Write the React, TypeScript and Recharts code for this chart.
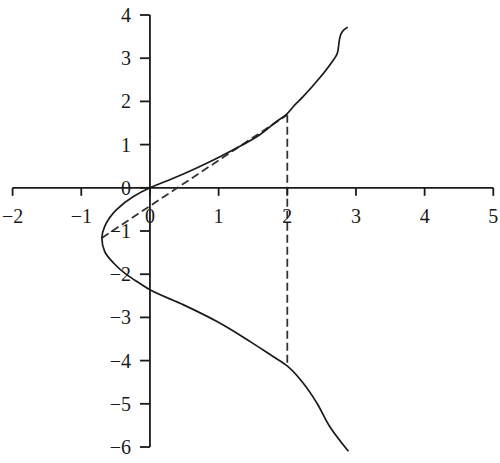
import { ComposedChart, Line, ReferenceLine, Scatter, XAxis, YAxis } from "recharts"

// tick values on the two crossing axes
const xTicks = [-2, -1, 0, 1, 2, 3, 4, 5]
const yTicks = [-6, -5, -4, -3, -2, -1, 0, 1, 2, 3, 4]

// the curve, read top to bottom
const curveX = [2.88, 2.82, 2.78, 2.76, 2.73, 2.64, 2.47, 2.23, 2.11, 1.98, 1.84, 1.6, 1.31, 1.02, 0.68, 0.34, 0, -0.24, -0.49, -0.66, -0.7, -0.66, -0.53, -0.34, -0.15, 0, 0.49, 0.97, 1.46, 1.75, 1.98, 2.23, 2.43, 2.62, 2.89]
const curveY = [3.72, 3.65, 3.55, 3.43, 3.12, 2.89, 2.54, 2.11, 1.92, 1.69, 1.53, 1.23, 0.96, 0.72, 0.46, 0.22, 0, -0.2, -0.51, -0.9, -1.16, -1.47, -1.74, -2.01, -2.21, -2.36, -2.71, -3.09, -3.56, -3.86, -4.1, -4.52, -4.98, -5.53, -6.1]

// dashed chord and the vertical drop at x = 2
const chordX = [-0.7, 2]
const chordY = [-1.16, 1.69]
const dropX = [2, 2]
const dropY = [1.69, -4.1]

const zip = (xs: number[], ys: number[]) => xs.map((x, i) => ({ x, y: ys[i] }))

const curve = zip(curveX, curveY)
const chord = zip(chordX, chordY)
const drop = zip(dropX, dropY)
const xTickPoints = xTicks.map((x) => ({ x, y: 0 }))
const yTickPoints = yTicks.map((y) => ({ x: 0, y }))

const ink = "#1a1a1a"
const font = "'Liberation Serif', 'Times New Roman', serif"
const fmt = (v: number) => (v < 0 ? `\u2212${Math.abs(v)}` : `${v}`)

const XTick = (props: any) => {
  const { cx, cy, payload } = props
  return (
    <g>
      <line x1={cx} y1={cy} x2={cx} y2={cy + 8} stroke={ink} strokeWidth={1.8} />
      <text x={cx} y={cy + 35} textAnchor="middle" fontSize={20} fontFamily={font} fill={ink}>
        {fmt(payload.x)}
      </text>
    </g>
  )
}

const YTick = (props: any) => {
  const { cx, cy, payload } = props
  return (
    <g>
      <line x1={cx - 10} y1={cy} x2={cx} y2={cy} stroke={ink} strokeWidth={1.8} />
      <text x={cx - 19} y={cy + 7} textAnchor="end" fontSize={20} fontFamily={font} fill={ink}>
        {fmt(payload.y)}
      </text>
    </g>
  )
}

export default function App() {
  return (
    <div style={{ position: "absolute", left: 0, top: 0, background: "#fff" }}>
      <ComposedChart width={500} height={463} margin={{ top: 15, right: 6.7, bottom: 9.5, left: 12.6 }}>
        <XAxis type="number" dataKey="x" domain={[-2, 5]} hide />
        <YAxis type="number" dataKey="y" domain={[-6.15, 4]} hide />
        <ReferenceLine y={0} stroke={ink} strokeWidth={1.8} />
        <ReferenceLine segment={[{ x: 0, y: -6 }, { x: 0, y: 4 }]} stroke={ink} strokeWidth={1.8} />
        <Scatter data={xTickPoints} shape={XTick} isAnimationActive={false} />
        <Scatter data={yTickPoints} shape={YTick} isAnimationActive={false} />
        <Line
          data={chord}
          dataKey="y"
          type="linear"
          stroke="#333"
          strokeWidth={1.8}
          strokeDasharray="8 4"
          dot={false}
          activeDot={false}
          isAnimationActive={false}
        />
        <Line
          data={drop}
          dataKey="y"
          type="linear"
          stroke="#333"
          strokeWidth={1.8}
          strokeDasharray="8 4"
          dot={false}
          activeDot={false}
          isAnimationActive={false}
        />
        <Line
          data={curve}
          dataKey="y"
          type="monotoneY"
          stroke={ink}
          strokeWidth={1.7}
          dot={false}
          activeDot={false}
          isAnimationActive={false}
        />
      </ComposedChart>
    </div>
  )
}
